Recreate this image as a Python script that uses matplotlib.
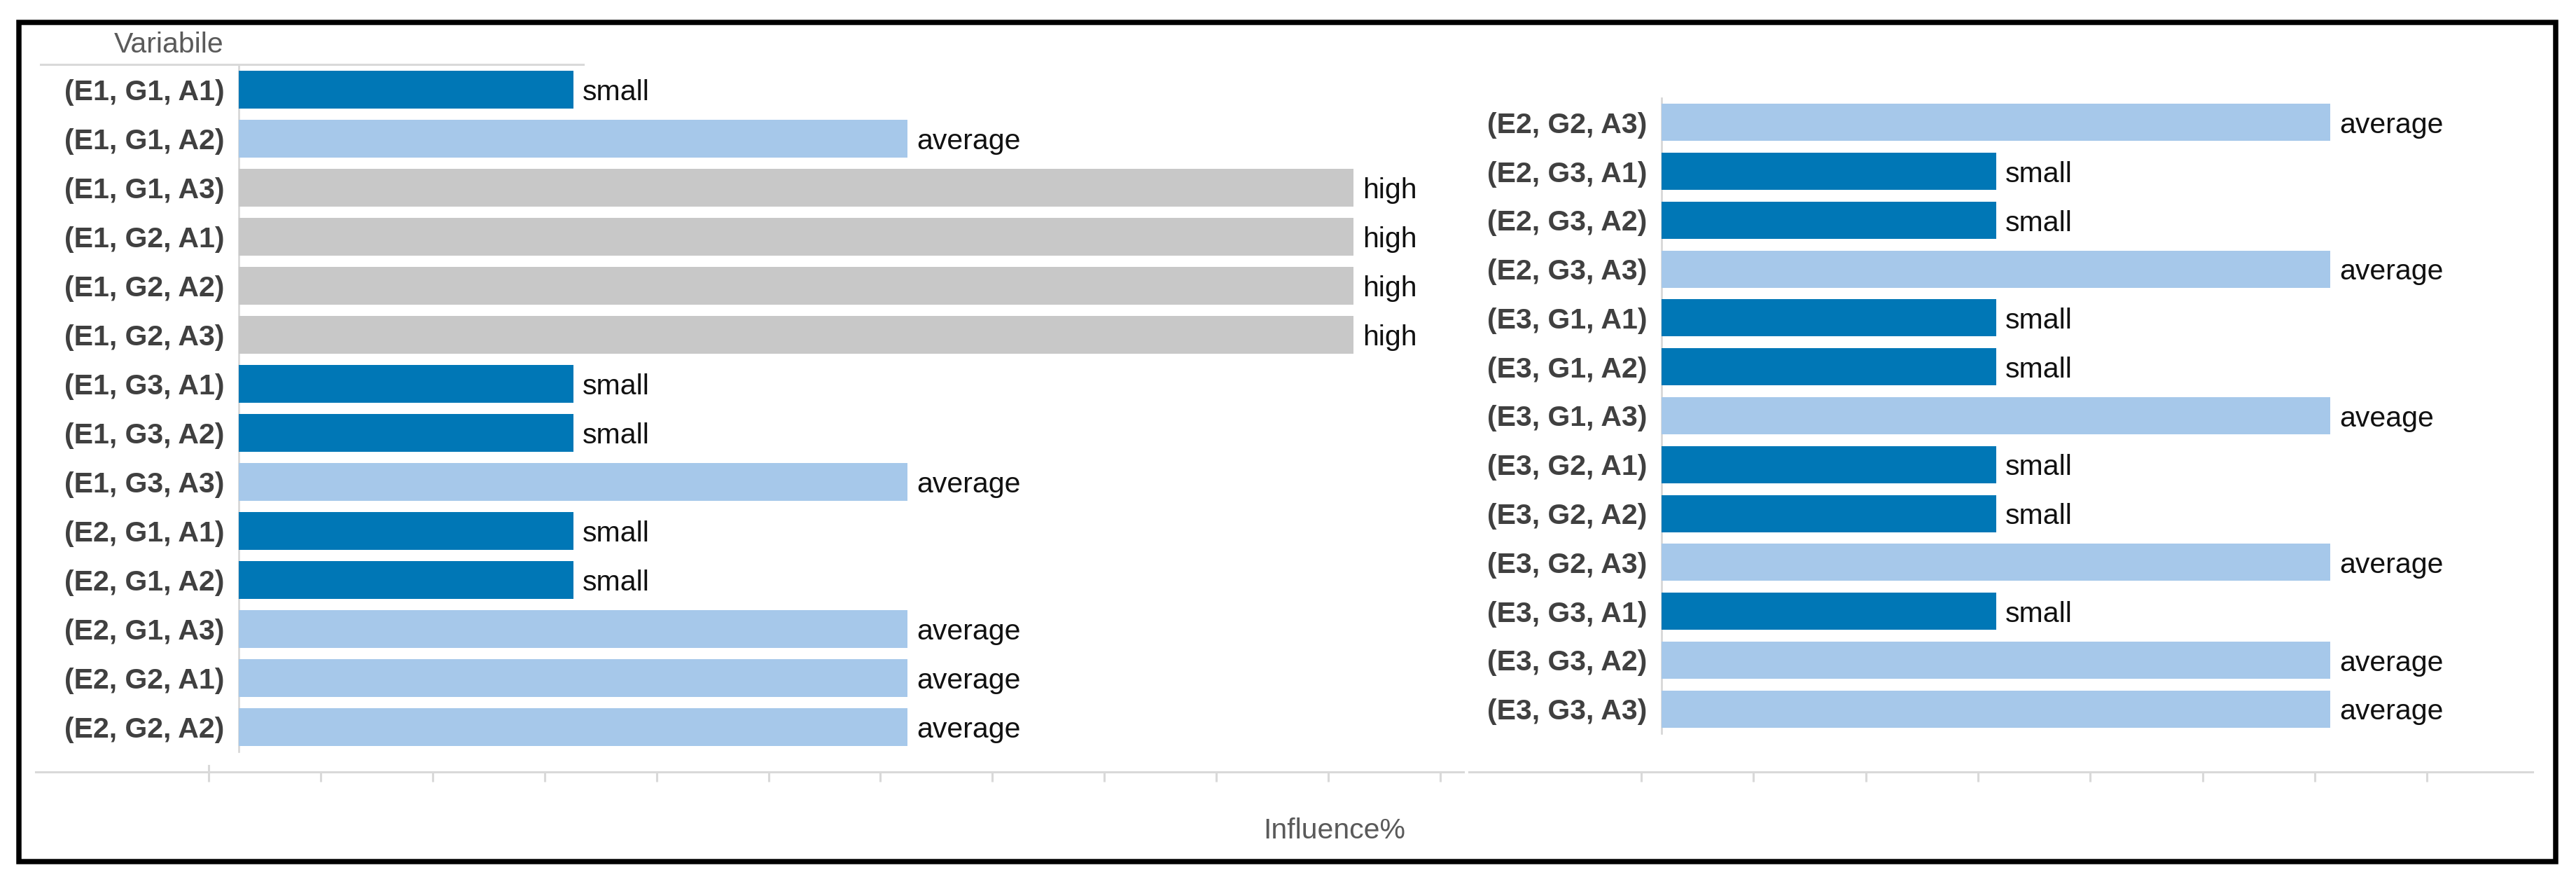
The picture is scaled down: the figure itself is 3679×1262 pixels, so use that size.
import matplotlib
matplotlib.use("Agg")
import matplotlib.pyplot as plt
from matplotlib.lines import Line2D
from matplotlib.patches import Rectangle

plt.rcParams["font.family"] = ["Liberation Sans", "DejaVu Sans"]

# =============================================================================
# DATA
# =============================================================================
left_labels = ["(E1, G1, A1)", "(E1, G1, A2)", "(E1, G1, A3)", "(E1, G2, A1)",
               "(E1, G2, A2)", "(E1, G2, A3)", "(E1, G3, A1)", "(E1, G3, A2)",
               "(E1, G3, A3)", "(E2, G1, A1)", "(E2, G1, A2)", "(E2, G1, A3)",
               "(E2, G2, A1)", "(E2, G2, A2)"]
left_levels = ["small", "average", "high", "high", "high", "high", "small",
               "small", "average", "small", "small", "average", "average", "average"]
left_text = list(left_levels)

right_labels = ["(E2, G2, A3)", "(E2, G3, A1)", "(E2, G3, A2)", "(E2, G3, A3)",
                "(E3, G1, A1)", "(E3, G1, A2)", "(E3, G1, A3)", "(E3, G2, A1)",
                "(E3, G2, A2)", "(E3, G2, A3)", "(E3, G3, A1)", "(E3, G3, A2)",
                "(E3, G3, A3)"]
right_levels = ["average", "small", "small", "average", "small", "small", "average",
                "small", "small", "average", "small", "average", "average"]
right_text = ["average", "small", "small", "average", "small", "small", "aveage",
              "small", "small", "average", "small", "average", "average"]

level_value = {"small": 3, "average": 6, "high": 10}
level_color = {"small": "#0077b6", "average": "#a6c8ea", "high": "#c8c8c8"}

left_ticks = list(range(12))
right_ticks = list(range(8))

# =============================================================================
# LAYOUT HELPERS
# =============================================================================
W, H, DPI = 3679, 1262, 100
UNIT = 159.2          # px per influence unit
FS = 29.5
GRID = "#d9d9d9"

fig = plt.figure(figsize=(W / DPI, H / DPI), dpi=DPI)

def px_axes(x0, y0, x1, y1):
    """axes from pixel box (top-left origin)"""
    return fig.add_axes([x0 / W, 1 - y1 / H, (x1 - x0) / W, (y1 - y0) / H])

def fig_line(x0, y0, x1, y1, **kw):
    fig.add_artist(Line2D([x0 / W, x1 / W], [1 - y0 / H, 1 - y1 / H],
                          transform=fig.transFigure, **kw))

def bar_panel(ax, labels, levels, texts):
    ypos = list(range(len(labels)))
    vals = [level_value[l] for l in levels]
    cols = [level_color[l] for l in levels]
    ax.barh(ypos, vals, height=0.76, color=cols, zorder=3)
    for y, v, t in zip(ypos, vals, texts):
        ax.annotate(t, (v, y), xytext=(9.5, -3), textcoords="offset points",
                    ha="left", va="center", fontsize=FS, color="#111111",
                    annotation_clip=False)
    ax.set_ylim(len(labels) - 0.5, -0.5)
    ax.set_yticks(ypos, labels)
    ax.tick_params(axis="y", length=0, pad=15, labelsize=FS, labelcolor="#404040")
    for lab in ax.get_yticklabels():
        lab.set_fontweight("bold")
    ax.tick_params(axis="x", bottom=False, labelbottom=False)
    for s in ("top", "right", "bottom"):
        ax.spines[s].set_visible(False)
    ax.spines["left"].set_color("#d6d6d6")
    ax.spines["left"].set_linewidth(1.9)
    ax.patch.set_alpha(0)

def tick_strip(ax, lo, hi, ticks, zero_tall=False):
    ax.set_xlim(lo, hi)
    ax.set_ylim(0, 1)
    ax.set_xticks(ticks)
    ax.set_xticklabels([])
    ax.set_yticks([])
    ax.tick_params(axis="x", length=10, width=2.2, color=GRID)
    for s in ("top", "right", "left"):
        ax.spines[s].set_visible(False)
    ax.spines["bottom"].set_color(GRID)
    ax.spines["bottom"].set_linewidth(2.2)
    ax.patch.set_alpha(0)
    if zero_tall:
        ax.axvline(0, 0, 1, color=GRID, lw=2.2, clip_on=False)

# =============================================================================
# PANELS
# =============================================================================
ax_l = px_axes(341, 93, 2090, 1073)
ax_l.set_xlim(0, (2090 - 341) / UNIT)
bar_panel(ax_l, left_labels, left_levels, left_text)

ax_r = px_axes(2373, 140, 3617, 1047)
ax_r.set_xlim(0, (3617 - 2373) / UNIT)
bar_panel(ax_r, right_labels, right_levels, right_text)

# bottom (empty) influence axes
tb_l = px_axes(51, 1093, 2090, 1102)
tick_strip(tb_l, (51 - 298) / 159.9, (2090 - 298) / 159.9, left_ticks, zero_tall=True)
tb_r = px_axes(2098, 1093, 3617, 1102)
tick_strip(tb_r, (2098 - 2344) / 160.3, (3617 - 2344) / 160.3, right_ticks)

# header
fig.text(320 / W, 1 - 64 / H, "Variabile", ha="right", va="center",
         fontsize=FS, color="#5a5a5a")
fig_line(58, 92, 833, 92, color=GRID, lw=2.2)

fig.text(1906 / W, 1 - 1186 / H, "Influence%", ha="center", va="center",
         fontsize=FS, color="#5a5a5a")

# outer black frame
fig.add_artist(Rectangle((27 / W, 1 - 1229.5 / H), (3650 - 27) / W, (1229.5 - 31.5) / H,
                         transform=fig.transFigure, fill=False, edgecolor="black",
                         lw=5.4))

fig.savefig("out.png", dpi=DPI)
